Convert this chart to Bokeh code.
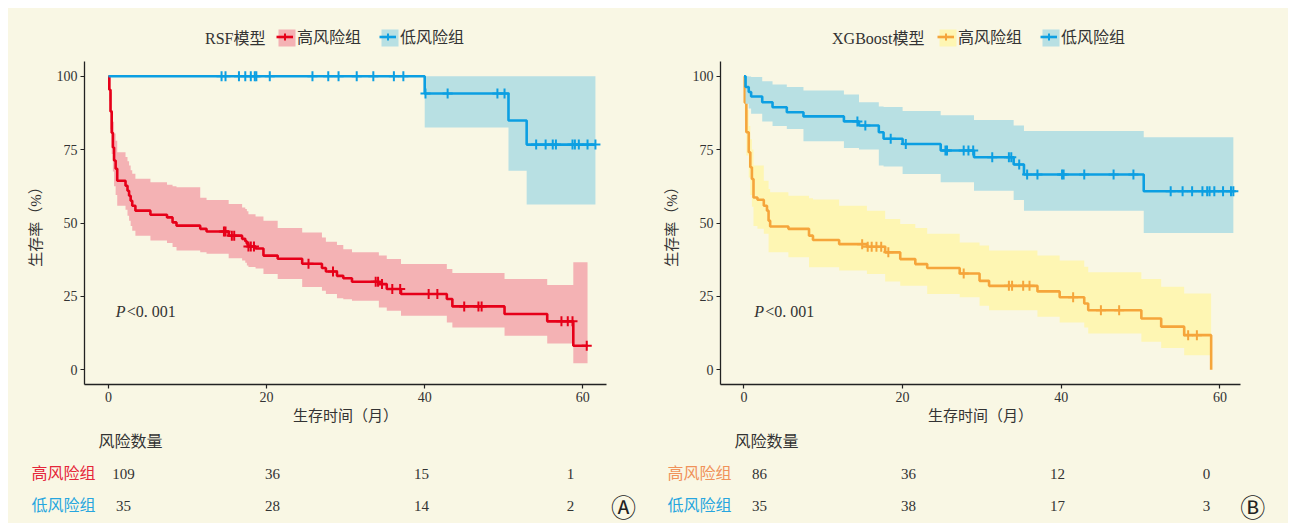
import numpy as np
from bokeh.plotting import figure
from bokeh.models import Range1d, FixedTicker, Label, Legend, LegendItem
from bokeh.layouts import row, column
from bokeh.core.properties import value
from bokeh.embed import file_html
from bokeh.resources import INLINE

FONT = "Liberation Serif, Noto Sans CJK SC"
BG = "#F9F7E4"
TXT = "#333333"

# ---------------- Panel A : RSF ----------------
rsf_high_t = [0, 0.1, 0.25, 0.4, 0.55, 0.7, 0.9, 1.1, 2.15, 2.4, 2.6, 2.8, 3.0, 3.4, 5.3, 7.4, 8.1, 8.6,
              11.6, 12.4, 15.2, 16.9, 17.3, 17.5, 17.7, 18.6, 19.6, 21.4, 24.5, 27.0, 27.5, 28.9, 29.7,
              30.8, 34.2, 35.2, 37.0, 42.8, 43.5, 50.1, 55.5, 58.8]
rsf_high_s = [100, 95.4, 88.0, 80.7, 75.7, 71.3, 68.5, 64.4, 62.7, 61.0, 59.3, 57.6, 55.9, 54.2, 52.8, 51.9,
              50.2, 49.1, 48.0, 47.1, 45.7, 44.6, 43.8, 42.9, 42.0, 41.3, 38.9, 37.8, 36.1, 34.7, 33.5, 32.0,
              31.2, 30.0, 29.2, 27.5, 25.8, 24.1, 21.6, 19.0, 16.5, 8.2]
rsf_high_lo = [100, 91.5, 82.0, 73.5, 67.5, 62.5, 59.5, 55.9, 54.5, 52.5, 50.8, 49.0, 47.4, 45.7, 44.0, 43.2,
               41.8, 40.6, 40.0, 39.5, 38.0, 37.2, 36.5, 35.5, 35.0, 34.5, 32.6, 30.9, 28.2, 26.9, 25.8, 24.4,
               24.0, 23.5, 21.2, 20.1, 18.4, 16.1, 14.4, 11.6, 9.0, 2.2]
rsf_high_up = [100, 99.5, 94.5, 88.5, 84.5, 80.5, 78.0, 74.1, 72.5, 71.0, 69.6, 68.0, 66.8, 65.1, 63.9, 63.0,
               62.5, 62.2, 58.6, 57.8, 56.5, 55.3, 54.8, 54.0, 53.0, 52.2, 50.8, 48.3, 46.8, 45.1, 43.6, 42.5,
               41.1, 40.0, 38.9, 37.7, 36.0, 34.3, 33.0, 30.9, 28.9, 36.6]
rsf_high_end = 60.6
rsf_high_cens = [14.6, 14.8, 15.6, 15.9, 17.7, 18.0, 18.4, 25.3, 28.4, 33.8, 34.1, 34.6, 35.9, 36.9, 40.5,
                 41.6, 45.0, 46.8, 47.2, 57.3, 58.1, 58.7, 60.5]

rsf_low_t = [0, 40.0, 50.6, 52.9]
rsf_low_s = [100, 94.1, 84.9, 76.7]
rsf_low_lo = [100, 82.5, 67.8, 56.3]
rsf_low_up = [100, 100, 100, 100]
rsf_low_end = 61.6
rsf_low_cens = [14.3, 14.8, 16.5, 17.3, 18.0, 18.5, 18.7, 20.4, 25.8, 27.8, 29.1, 31.4, 33.5, 36.1, 37.3,
                40.1, 42.9, 49.2, 50.1, 54.1, 55.3, 56.2, 56.6, 58.7, 59.0, 59.5, 60.6, 61.6]

# ---------------- Panel B : XGBoost ----------------
xgb_high_t = [0, 0.1, 0.3, 0.6, 0.8, 1.0, 1.2, 1.7, 2.5, 2.9, 3.1, 3.3, 5.6, 8.2, 8.7, 12.0, 15.5, 17.8,
              19.7, 21.6, 23.1, 27.2, 29.7, 30.9, 37.0, 39.8, 42.9, 43.4, 50.1, 52.6, 55.5, 58.9]
xgb_high_s = [100, 91.0, 80.9, 74.1, 69.0, 65.0, 58.7, 57.9, 55.9, 54.2, 50.8, 48.8, 48.0, 45.7, 44.2, 42.8,
              41.9, 40.0, 37.7, 36.0, 34.7, 32.8, 30.3, 28.6, 26.7, 24.7, 22.6, 20.3, 17.5, 14.7, 11.8, 0]
xgb_high_lo = [100, 85.0, 73.0, 65.5, 59.5, 55.5, 49.0, 48.0, 46.3, 46.3, 40.0, 40.0, 38.3, 34.9, 34.9, 33.8,
               32.6, 30.1, 28.6, 28.6, 25.8, 24.7, 21.8, 20.3, 18.1, 16.1, 14.4, 12.4, 9.6, 7.4, 5.0, np.nan]
xgb_high_up = [100, 97.0, 88.5, 83.0, 78.5, 75.0, 69.6, 69.6, 64.4, 64.4, 61.6, 60.5, 59.3, 58.4, 58.0, 55.9,
               54.2, 51.4, 49.7, 48.3, 46.3, 43.4, 42.3, 40.6, 38.9, 37.2, 35.1, 33.2, 30.9, 28.3, 26.0, np.nan]
xgb_high_end = 58.9
xgb_high_cens = [14.9, 15.6, 16.1, 16.7, 17.3, 18.2, 27.7, 33.4, 33.8, 35.2, 36.0, 41.5, 45.0, 47.3, 56.0, 57.1]

xgb_low_t = [0, 0.2, 0.6, 0.9, 2.3, 3.6, 5.4, 7.5, 12.6, 14.5, 17.0, 17.6, 20.0, 24.8, 29.0, 34.0, 35.3, 50.4]
xgb_low_s = [100, 96.3, 94.6, 93.1, 91.1, 89.4, 87.7, 86.3, 84.6, 83.2, 80.9, 78.7, 76.9, 74.7, 72.4, 69.9,
             66.5, 60.8]
xgb_low_lo = [100, 90.6, 89.0, 87.2, 84.6, 83.0, 82.0, 77.8, 75.5, 75.0, 69.6, 69.2, 66.7, 63.9, 61.0, 57.8,
              54.2, 46.6]
xgb_low_up = [100, 100, 99.9, 99.7, 98.3, 97.2, 96.3, 95.1, 93.8, 91.1, 89.7, 89.5, 88.1, 86.7, 85.1, 83.2,
              81.3, 79.2]
xgb_low_end = 61.7
xgb_low_cens = [14.3, 15.3, 18.5, 20.4, 25.4, 25.6, 27.7, 28.3, 28.9, 31.3, 33.4, 33.7, 34.7, 35.7, 37.0, 40.1,
                40.3, 42.9, 46.6, 49.1, 53.8, 55.3, 56.5, 57.8, 58.4, 58.7, 59.3, 60.4, 61.4, 61.7]

# ---------------- risk tables ----------------
risk_times = [0, 20, 40, 60]
rsf_high_risk = [109, 36, 15, 1]
rsf_low_risk = [35, 28, 14, 2]
xgb_high_risk = [86, 36, 12, 0]
xgb_low_risk = [35, 38, 17, 3]

group_names = ["高风险组", "低风险组"]
x_ticks = [0, 20, 40, 60]
y_ticks = [0, 25, 50, 75, 100]


def step_band(t, lo, up, end):
    xs, l, u = [], [], []
    n = len(t)
    for i in range(n):
        t1 = t[i + 1] if i + 1 < n else end
        xs += [t[i], t1]
        l += [lo[i], lo[i]]
        u += [up[i], up[i]]
    return xs, l, u


def surv_at(t, s, c):
    idx = np.searchsorted(np.array(t), np.array(c), side="right") - 1
    return list(np.array(s)[idx])


def base_fig(w, h, xr, yr, **kw):
    f = figure(width=w, height=h, x_range=Range1d(*xr), y_range=Range1d(*yr),
               output_backend="svg", toolbar_location=None, **kw)
    f.frame_align = False
    f.background_fill_color = BG
    f.border_fill_color = BG
    f.outline_line_color = None
    f.grid.visible = False
    return f


GLYPH_W = 17
LABEL_W = 64
SPACING = 18


def make_header(title, title_x, legend_x, styles):
    h = base_fig(640, 45, (0, 640), (0, 45), x_axis_type=None, y_axis_type=None, min_border=0)
    h.text(x=[title_x], y=[15], text=[title], text_font=value(FONT), text_font_size="16px",
           text_color=TXT, text_align="right", text_baseline="middle")
    # filled key backgrounds placed under the legend glyph slots
    first = legend_x + 2 + GLYPH_W / 2
    key_x = [first + i * (GLYPH_W + 4 + LABEL_W + SPACING) for i in range(len(styles))]
    h.scatter(x=key_x, y=[15.5] * len(styles), marker="square", size=GLYPH_W,
              fill_color=[bc for (_, bc) in styles], line_color=None)
    # off-screen proxy glyphs that only supply the legend keys
    px, py = [-60, -50], [-60, -60]
    items = []
    for (lc, bc), name in zip(styles, group_names):
        line = h.line(x=px, y=py, line_color=lc, line_width=2.6)
        mark = h.scatter(x=px, y=py, marker="cross", size=10, line_color=lc, line_width=2)
        items.append(LegendItem(label=name, renderers=[line, mark]))
    legend = Legend(items=items, orientation="horizontal", location=(legend_x, 5))
    legend.label_text_font = FONT
    legend.label_text_font_size = "16px"
    legend.label_text_color = TXT
    legend.glyph_width = GLYPH_W
    legend.glyph_height = GLYPH_W
    legend.label_standoff = 4
    legend.spacing = SPACING
    legend.padding = 2
    legend.margin = 0
    legend.border_line_color = None
    legend.background_fill_alpha = 0
    h.add_layout(legend)
    return h


def make_plot(xr, frame_left, frame_right, curves, p_x):
    p = base_fig(640, 380, xr, (-5, 105),
                 min_border_left=frame_left, min_border_right=frame_right,
                 min_border_top=8, min_border_bottom=49)
    p.xaxis.ticker = FixedTicker(ticks=x_ticks)
    p.yaxis.ticker = FixedTicker(ticks=y_ticks)
    p.xaxis.axis_label = "生存时间（月）"
    p.yaxis.axis_label = "生存率（%）"
    for ax in [p.xaxis[0], p.yaxis[0]]:
        ax.axis_line_color = "#222222"
        ax.axis_line_width = 1.3
        ax.major_tick_line_color = "#222222"
        ax.major_tick_line_width = 1.2
        ax.major_tick_out = 4
        ax.major_tick_in = 0
        ax.minor_tick_out = 0
        ax.minor_tick_in = 0
        ax.major_label_text_font = FONT
        ax.major_label_text_font_size = "14px"
        ax.major_label_text_color = TXT
        ax.axis_label_text_font = FONT
        ax.axis_label_text_font_size = "15px"
        ax.axis_label_text_font_style = "normal"
        ax.axis_label_text_color = TXT
    p.xaxis.major_label_standoff = 3
    p.xaxis.axis_label_standoff = 3
    p.yaxis.major_label_standoff = 3
    p.yaxis.axis_label_standoff = 10

    for (t, s, lo, up, end, cens, lc, bc) in curves:
        xs, l, u = step_band(t, lo, up, end)
        p.varea(x=xs, y1=l, y2=u, fill_color=bc, fill_alpha=1.0)
        p.step(x=list(t) + [end], y=list(s) + [s[-1]], mode="after", line_color=lc, line_width=2.6)
        p.scatter(x=cens, y=surv_at(t, s, cens), marker="cross", size=10, line_color=lc, line_width=2)

    p.add_layout(Label(x=p_x, y=20, text="P", text_font=FONT, text_font_style="italic",
                       text_font_size="16px", text_color=TXT, text_baseline="middle"))
    p.add_layout(Label(x=p_x, y=20, x_offset=11, text="<0. 001", text_font=FONT,
                       text_font_size="16px", text_color=TXT, text_baseline="middle"))
    return p


def make_table(xr, risks, label_colors, tag, tag_x):
    t = base_fig(640, 90, xr, (-2.5625, 0.25), x_axis_type=None, y_axis_type=None, min_border=0)
    t.text(x=[-3.36], y=[0], text=["风险数量"], text_font=value(FONT), text_font_size="16px",
           text_color=TXT, text_align="left", text_baseline="middle")
    t.text(x=[-3.76, -3.76], y=[-1, -2], text=group_names, text_font=value(FONT),
           text_font_size="16px", text_color=label_colors, text_align="right",
           text_baseline="middle")
    for i, vals in enumerate(risks):
        t.text(x=risk_times, y=[-(i + 1)] * len(vals), text=[str(v) for v in vals],
               text_font=value(FONT), text_font_size="15px", text_color=TXT,
               text_align="center", text_baseline="middle")
    t.text(x=[tag_x], y=[-2.09], text=[tag], text_font=value("DejaVu Serif, Noto Sans CJK SC"),
           text_font_size="25px", text_color="#222222", text_align="center",
           text_baseline="middle")
    return t


RED, PINK = "#E60019", "#F4B2B4"
BLUE, LBLUE = "#0C9FE2", "#B8E0E3"
ORANGE, YELLOW = "#F5A53B", "#FEF6B3"

h1 = make_header("RSF模型", 257, 268, [(RED, PINK), (BLUE, LBLUE)])
p1 = make_plot((-3.04, 63.0), 76, 42,
               [(rsf_high_t, rsf_high_s, rsf_high_lo, rsf_high_up, rsf_high_end, rsf_high_cens, RED, PINK),
                (rsf_low_t, rsf_low_s, rsf_low_lo, rsf_low_up, rsf_low_end, rsf_low_cens, BLUE, LBLUE)],
               0.9)
t1 = make_table((-15.44, 70.47), [rsf_high_risk, rsf_low_risk], ["#E5263A", "#27A6DF"], "Ⓐ", 67.1)

h2 = make_header("XGBoost模型", 276, 289, [(ORANGE, YELLOW), (BLUE, LBLUE)])
p2 = make_plot((-2.96, 62.6), 72, 48,
               [(xgb_high_t, xgb_high_s, xgb_high_lo, xgb_high_up, xgb_high_end, xgb_high_cens, ORANGE, YELLOW),
                (xgb_low_t, xgb_low_s, xgb_low_lo, xgb_low_up, xgb_low_end, xgb_low_cens, BLUE, LBLUE)],
               1.3)
t2 = make_table((-14.9, 71.0), [xgb_high_risk, xgb_low_risk], ["#F0925A", "#27A6DF"], "Ⓑ", 66.2)

layout = row(column(h1, p1, t1, spacing=0), column(h2, p2, t2, spacing=0), spacing=0,
             margin=(8, 0, 0, 8), styles={"background-color": BG})
open("out.html", "w").write(file_html(layout, INLINE))
